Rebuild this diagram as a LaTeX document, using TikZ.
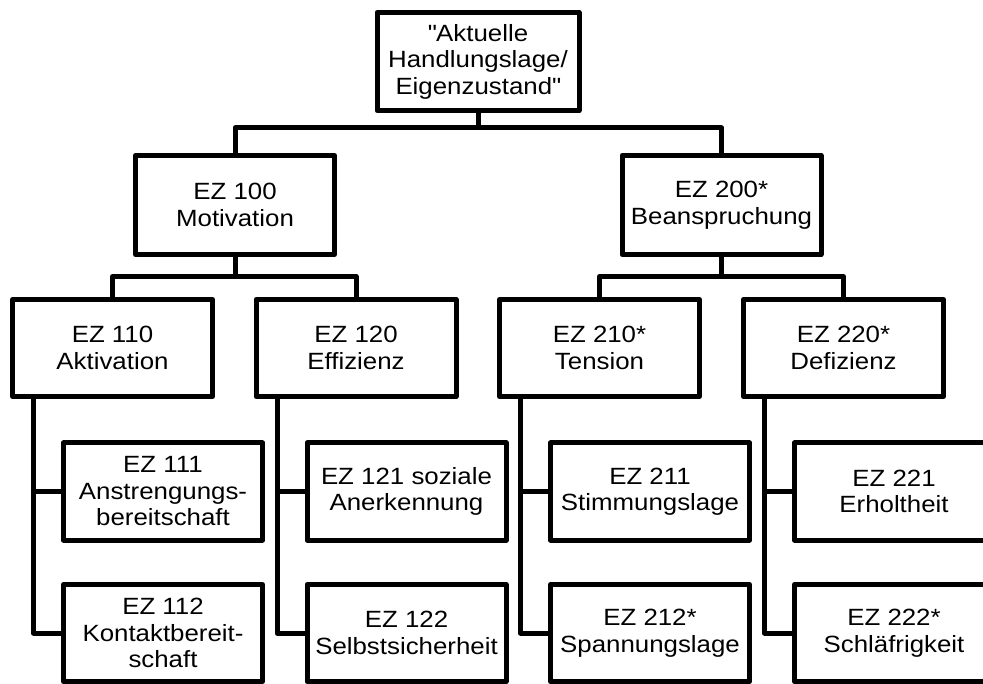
\documentclass[tikz,border=0pt]{standalone}
\usepackage{fontspec}
\setmainfont{Liberation Sans}[FakeStretch=1.1]
\begin{document}
\begin{tikzpicture}[x=1pt,y=-1pt,
  box/.style={draw=black, line width=5pt, line join=round, fill=white, inner sep=0pt,
    align=center, font=\fontsize{23.5}{26.5}\selectfont},
  wide/.style={box, minimum width=200pt, minimum height=97pt},
  leaf/.style={box, minimum width=199pt, minimum height=97pt},
  conn/.style={draw=black, line width=5pt, line join=round, line cap=rect}]
\useasboundingbox (0,0) rectangle (983,684);
\clip (0,0) rectangle (983,684);
% top
\node[box, minimum width=202pt, minimum height=98pt] (top) at (478,61.5) {\textquotedbl Aktuelle\\Handlungslage/\\Eigenzustand\textquotedbl};
% level 1
\node[box, minimum width=199pt, minimum height=99pt] (e100) at (235,205) {EZ 100\\Motivation};
\node[box, minimum width=199pt, minimum height=99pt] (e200) at (721.5,205) {EZ 200*\\Beanspruchung};
% level 2
\node[wide] (e110) at (112.5,348) {EZ 110\\Aktivation};
\node[wide] (e120) at (356,348) {EZ 120\\Effizienz};
\node[wide] (e210) at (599.5,348) {EZ 210*\\Tension};
\node[wide] (e220) at (843.5,348) {EZ 220*\\Defizienz};
% level 3
\node[leaf] (e111) at (163,491.5) {EZ 111\\Anstrengungs-\\bereitschaft};
\node[leaf] (e112) at (163,633) {EZ 112\\Kontaktbereit-\\schaft};
\node[leaf] (e121) at (406.5,491.5) {EZ 121 soziale\\Anerkennung};
\node[leaf] (e122) at (406.5,633) {EZ 122\\Selbstsicherheit};
\node[leaf] (e211) at (650,491.5) {EZ 211\\Stimmungslage};
\node[leaf] (e212) at (650,633) {EZ 212*\\Spannungslage};
\node[leaf] (e221) at (894,491.5) {EZ 221\\Erholtheit};
\node[leaf] (e222) at (894,633) {EZ 222*\\Schläfrigkeit};
% junction points
\coordinate (b0) at (478,128);
\coordinate (b1) at (235,276.5);
\coordinate (b2) at (721.5,276.5);
\coordinate (v110) at (33.5,348);
\coordinate (v120) at (277,348);
\coordinate (v210) at (520.5,348);
\coordinate (v220) at (764.5,348);
% connectors
\draw[conn] (top.south) -- (b0);
\draw[conn] (e100.north) |- (b0) -| (e200.north);
\draw[conn] (e100.south) -- (b1);
\draw[conn] (e110.north) |- (b1) -| (e120.north);
\draw[conn] (e200.south) -- (b2);
\draw[conn] (e210.north) |- (b2) -| (e220.north);
\draw[conn] (v110 |- e110.south) |- (e111.west);
\draw[conn] (v110 |- e110.south) |- (e112.west);
\draw[conn] (v120 |- e120.south) |- (e121.west);
\draw[conn] (v120 |- e120.south) |- (e122.west);
\draw[conn] (v210 |- e210.south) |- (e211.west);
\draw[conn] (v210 |- e210.south) |- (e212.west);
\draw[conn] (v220 |- e220.south) |- (e221.west);
\draw[conn] (v220 |- e220.south) |- (e222.west);
\end{tikzpicture}
\end{document}
